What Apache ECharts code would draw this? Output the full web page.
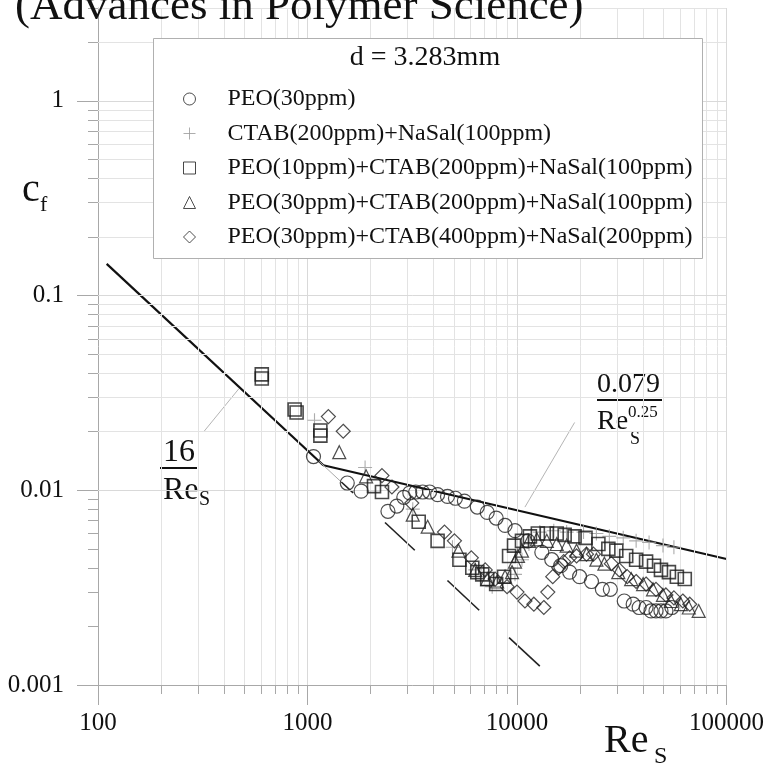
<!DOCTYPE html>
<html><head><meta charset="utf-8">
<script src="https://cdn.jsdelivr.net/npm/echarts@6/dist/echarts.min.js"></script>
<style>html,body{margin:0;padding:0;background:#fff}#c{width:767px;height:764px}</style>
</head><body><div id="c"></div>
<script>
// ---------- data ----------
const seriesNames = [
  'PEO(30ppm)',
  'CTAB(200ppm)+NaSal(100ppm)',
  'PEO(10ppm)+CTAB(200ppm)+NaSal(100ppm)',
  'PEO(30ppm)+CTAB(200ppm)+NaSal(100ppm)',
  'PEO(30ppm)+CTAB(400ppm)+NaSal(200ppm)'
];
const peo30 = [[1068,0.0149],[1548,0.0109],[1803,0.0099],[2421,0.0078],[2670,0.0083],[2882,0.0092],[3078,0.0097],[3285,0.0098],[3545,0.0098],[3828,0.0098],[4178,0.0095],[4658,0.0093],[5083,0.0091],[5609,0.0088],[6463,0.0082],[7208,0.0077],[7953,0.0072],[8771,0.0066],[9783,0.0062],[11274,0.0055],[13136,0.0048],[14652,0.0044],[16161,0.0041],[17833,0.0038],[19893,0.0036],[22672,0.0034],[25558,0.0031],[27892,0.0031],[32495,0.0027],[35850,0.0026],[38285,0.0025],[41315,0.0025],[43637,0.0024],[46080,0.0024],[48658,0.0024],[51379,0.0024],[54868,0.0025]];
const ctab200 = [[1080,0.0229],[1883,0.0131],[3180,0.0080],[4920,0.0051],[6322,0.0039],[7613,0.0032],[9783,0.0037],[10561,0.0044],[11403,0.0053],[12853,0.0061],[14981,0.0062],[17258,0.0061],[20774,0.0061],[23934,0.0060],[27596,0.0058],[32144,0.0057],[37040,0.0055],[42698,0.0054],[49738,0.0052],[56098,0.0051]];
const peo10ctab200 = [[605,0.0394],[605,0.0375],[868,0.0260],[887,0.0251],[1152,0.0203],[1152,0.0191],[2077,0.0105],[2267,0.0098],[3395,0.0069],[4178,0.0055],[5311,0.0044],[6118,0.0040],[6463,0.0038],[6826,0.0037],[7208,0.0035],[7953,0.0033],[8677,0.0036],[9165,0.0046],[9679,0.0052],[10561,0.0055],[11523,0.0058],[12574,0.0060],[13874,0.0060],[15474,0.0060],[16884,0.0059],[18831,0.0058],[21232,0.0057],[24468,0.0053],[27290,0.0050],[29783,0.0049],[33207,0.0046],[37040,0.0044],[41315,0.0043],[45082,0.0041],[48658,0.0039],[53107,0.0038],[57943,0.0036],[63220,0.0035]];
const peo30ctab200 = [[1418,0.0157],[1904,0.0118],[3180,0.0075],[3746,0.0065],[5253,0.0049],[6322,0.0039],[7208,0.0035],[8036,0.0034],[8771,0.0036],[9469,0.0038],[9783,0.0043],[10109,0.0046],[10561,0.0049],[11403,0.0055],[12437,0.0056],[13874,0.0055],[15474,0.0053],[17258,0.0052],[19247,0.0049],[21467,0.0047],[23934,0.0044],[26134,0.0042],[30444,0.0038],[35075,0.0035],[39991,0.0033],[44596,0.0031],[49738,0.0029],[54279,0.0027],[60534,0.0026],[66051,0.0025],[73660,0.0024]];
const peo30ctab400 = [[1258,0.0239],[1481,0.0201],[2267,0.0119],[2529,0.0104],[3145,0.0086],[4508,0.0061],[5028,0.0055],[6053,0.0045],[7053,0.0039],[7865,0.0035],[8965,0.0032],[9998,0.0030],[10912,0.0027],[12035,0.0026],[13428,0.0025],[14028,0.0030],[14813,0.0036],[15814,0.0040],[16701,0.0043],[17833,0.0045],[19247,0.0046],[21467,0.0047],[23174,0.0047],[28196,0.0042],[30779,0.0039],[33586,0.0036],[37040,0.0034],[41315,0.0033],[46080,0.0031],[51379,0.0029],[56098,0.0028],[61866,0.0027],[66778,0.0026]];
// theory lines: cf = 16/Re and cf = 0.079/Re^0.25
const laminarLine = [[110,0.1455],[1190,0.01345]];
const turbulentLine = [[1190,0.01345],[100000,0.00444]];
const laminarDashFaint = [[1130,0.01416],[1450,0.01103]];
const laminarDashes = [
  [[1450,0.01103],[1652,0.00969]],
  [[2344,0.00683],[3251,0.00492]],
  [[4656,0.00344],[6600,0.00242]],
  [[9162,0.00175],[12850,0.00125]]
];
const leader16 = [[321,0.0201],[471,0.0333]];
const leader079 = [[18836,0.0223],[10912,0.0082]];
// axes
const xMajor = [100,1000,10000,100000];
const xTickLabels = ['100','1000','10000','100000'];
const yMajor = [0.001,0.01,0.1,1];
const yTickLabels = ['0.001','0.01','0.1','1'];
const minorMult = [2,3,4,5,6,7,8,9];
const X_MIN = 100, X_MAX = 100000, Y_MIN = 0.001, Y_MAX = 3;

// ---------- chart ----------
const FONT = "'Liberation Serif','Times New Roman',serif";
const r = v => Math.round(v * 1e9) / 1e9;
const xMinor = [], yMinor = [];
xMajor.forEach(d => minorMult.forEach(m => { const v = r(d*m); if (v < X_MAX) xMinor.push(v); }));
yMajor.forEach(d => minorMult.forEach(m => { const v = r(d*m); if (v <= Y_MAX) yMinor.push(v); }));

const chart = echarts.init(document.getElementById('c'));
const markerBase = (name, data, symbol, size, stroke, bw) => ({
  name, type: 'scatter', data, symbol, symbolSize: size, symbolKeepAspect: true, z: 5,
  itemStyle: { color: 'rgba(0,0,0,0)', borderColor: stroke, borderWidth: bw }
});
const lineSeries = (data, color, width, z) => ({
  type: 'line', data, showSymbol: false, symbol: 'none', z: z || 4, silent: true,
  lineStyle: { color, width }, tooltip: { show: false }
});

const axisCommon = {
  type: 'log', logBase: 10,
  axisLine: { show: true, lineStyle: { color: '#a8a8a8', width: 1 } },
  splitLine: { show: false }, minorTick: { show: false }, minorSplitLine: { show: false }
};

const option = {
  animation: false,
  backgroundColor: '#fff',
  grid: { left: 98, right: 36, top: 8, bottom: 79, containLabel: false },
  xAxis: [
    Object.assign({}, axisCommon, {
      min: X_MIN, max: X_MAX,
      axisTick: { show: true, length: 20, customValues: xMajor, lineStyle: { color: '#a8a8a8' } },
      axisLabel: { customValues: xMajor, margin: 26, fontFamily: FONT, fontSize: 25, color: '#111',
        formatter: v => xTickLabels[xMajor.findIndex(t => Math.abs(t - v) / t < 1e-6)] || '' }
    }),
    Object.assign({}, axisCommon, {
      min: X_MIN, max: X_MAX, position: 'bottom',
      axisLine: { show: false },
      axisTick: { show: true, length: 9, customValues: xMinor, lineStyle: { color: '#a8a8a8' } },
      axisLabel: { show: false }
    })
  ],
  yAxis: [
    Object.assign({}, axisCommon, {
      min: Y_MIN, max: Y_MAX,
      axisTick: { show: true, length: 21, customValues: yMajor, lineStyle: { color: '#a8a8a8' } },
      axisLabel: { customValues: yMajor, margin: 34, fontFamily: FONT, fontSize: 25, color: '#111',
        formatter: v => yTickLabels[yMajor.findIndex(t => Math.abs(t - v) / t < 1e-6)] || '' }
    }),
    Object.assign({}, axisCommon, {
      min: Y_MIN, max: Y_MAX, position: 'left',
      axisLine: { show: false },
      axisTick: { show: true, length: 10, customValues: yMinor, lineStyle: { color: '#a8a8a8' } },
      axisLabel: { show: false }
    })
  ],
  legend: {
    data: seriesNames, orient: 'vertical', left: 183, top: 87, padding: 0,
    itemWidth: 12, itemHeight: 12, itemGap: 10.5, selectedMode: false,
    textStyle: { fontFamily: FONT, fontSize: 24, color: '#111', padding: [0, 0, 0, 27] },
    itemStyle: { borderWidth: 1 }
  },
  series: [
    {
      type: 'line', data: [], silent: true, z: 1,
      markLine: {
        silent: true, symbol: ['none', 'none'], label: { show: false }, animation: false,
        lineStyle: { color: '#e3e3e3', width: 1, type: 'solid' },
        emphasis: { disabled: true },
        data: xMinor.map(v => ({ xAxis: v })).concat(yMinor.map(v => ({ yAxis: v })))
      }
    },
    {
      type: 'line', data: [], silent: true, z: 1,
      markLine: {
        silent: true, symbol: ['none', 'none'], label: { show: false }, animation: false,
        lineStyle: { color: '#d9d9d9', width: 1, type: 'solid' },
        emphasis: { disabled: true },
        data: xMajor.slice(1).map(v => ({ xAxis: v })).concat(yMajor.slice(1).map(v => ({ yAxis: v })))
      }
    },
    lineSeries(leader16, '#b5b5b5', 1, 3),
    lineSeries(leader079, '#b5b5b5', 1, 3),
    lineSeries(laminarLine, '#111', 2.2),
    lineSeries(turbulentLine, '#111', 2.2),
    lineSeries(laminarDashFaint, '#aaa', 1),
    ...laminarDashes.map(d => lineSeries(d, '#222', 1.6)),
    markerBase(seriesNames[0], peo30, 'circle', 14, '#222', 1.2),
    markerBase(seriesNames[1], ctab200, 'path://M7,0L7,14M0,7L14,7', 14, '#999', 1.1),
    markerBase(seriesNames[2], peo10ctab200, 'rect', 13, '#1a1a1a', 1.6),
    markerBase(seriesNames[3], peo30ctab200, 'triangle', 13, '#222', 1.2),
    markerBase(seriesNames[4], peo30ctab400, 'diamond', 14, '#222', 1.2)
  ],
  graphic: [
    { type: 'rect', left: 153, top: 38, z: 10, silent: true,
      shape: { width: 549, height: 220 }, style: { fill: '#fff', stroke: '#b0b0b0', lineWidth: 1 } },
    { type: 'text', x: 425, y: 58, z: 11, style: { text: 'd = 3.283mm', fontFamily: FONT, fontSize: 28, fill: '#111',
      textAlign: 'center', textVerticalAlign: 'middle', align: 'center', verticalAlign: 'middle' } },
    { type: 'text', x: 15, y: 7, z: 11, style: { text: '(Advances in Polymer Science)', fontFamily: FONT, fontSize: 45, fill: '#111',
      textAlign: 'left', textVerticalAlign: 'middle', align: 'left', verticalAlign: 'middle' } },
    { type: 'text', x: 22, y: 190, style: { text: 'c', fontFamily: FONT, fontSize: 40, fill: '#111', textVerticalAlign: 'middle', verticalAlign: 'middle' } },
    { type: 'text', x: 40, y: 205, style: { text: 'f', fontFamily: FONT, fontSize: 22, fill: '#111', textVerticalAlign: 'middle', verticalAlign: 'middle' } },
    { type: 'text', x: 604, y: 741, style: { text: 'Re', fontFamily: FONT, fontSize: 40, fill: '#111', textVerticalAlign: 'middle', verticalAlign: 'middle' } },
    { type: 'text', x: 654, y: 757, style: { text: 'S', fontFamily: FONT, fontSize: 24, fill: '#111', textVerticalAlign: 'middle', verticalAlign: 'middle' } },
    { type: 'text', x: 179, y: 453, style: { text: '16', fontFamily: FONT, fontSize: 32, fill: '#111', textAlign: 'center', align: 'center', textVerticalAlign: 'middle', verticalAlign: 'middle' } },
    { type: 'line', shape: { x1: 160, y1: 468, x2: 197, y2: 468 }, style: { stroke: '#111', lineWidth: 2 } },
    { type: 'text', x: 163, y: 491, style: { text: 'Re', fontFamily: FONT, fontSize: 32, fill: '#111', textVerticalAlign: 'middle', verticalAlign: 'middle' } },
    { type: 'text', x: 199, y: 500, style: { text: 'S', fontFamily: FONT, fontSize: 20, fill: '#111', textVerticalAlign: 'middle', verticalAlign: 'middle' } },
    { type: 'text', x: 597, y: 385, style: { text: '0.079', fontFamily: FONT, fontSize: 28, fill: '#111', textVerticalAlign: 'middle', verticalAlign: 'middle' } },
    { type: 'line', shape: { x1: 597, y1: 400, x2: 662, y2: 400 }, style: { stroke: '#111', lineWidth: 2 } },
    { type: 'text', x: 597, y: 422, style: { text: 'Re', fontFamily: FONT, fontSize: 28, fill: '#111', textVerticalAlign: 'middle', verticalAlign: 'middle' } },
    { type: 'text', x: 628, y: 413, style: { text: '0.25', fontFamily: FONT, fontSize: 17, fill: '#111', textVerticalAlign: 'middle', verticalAlign: 'middle' } },
    { type: 'text', x: 630, y: 439, style: { text: 'S', fontFamily: FONT, fontSize: 18, fill: '#111', textVerticalAlign: 'middle', verticalAlign: 'middle' } }
  ]
};
option.legend.z = 12;
chart.setOption(option);
</script>
</body></html>
